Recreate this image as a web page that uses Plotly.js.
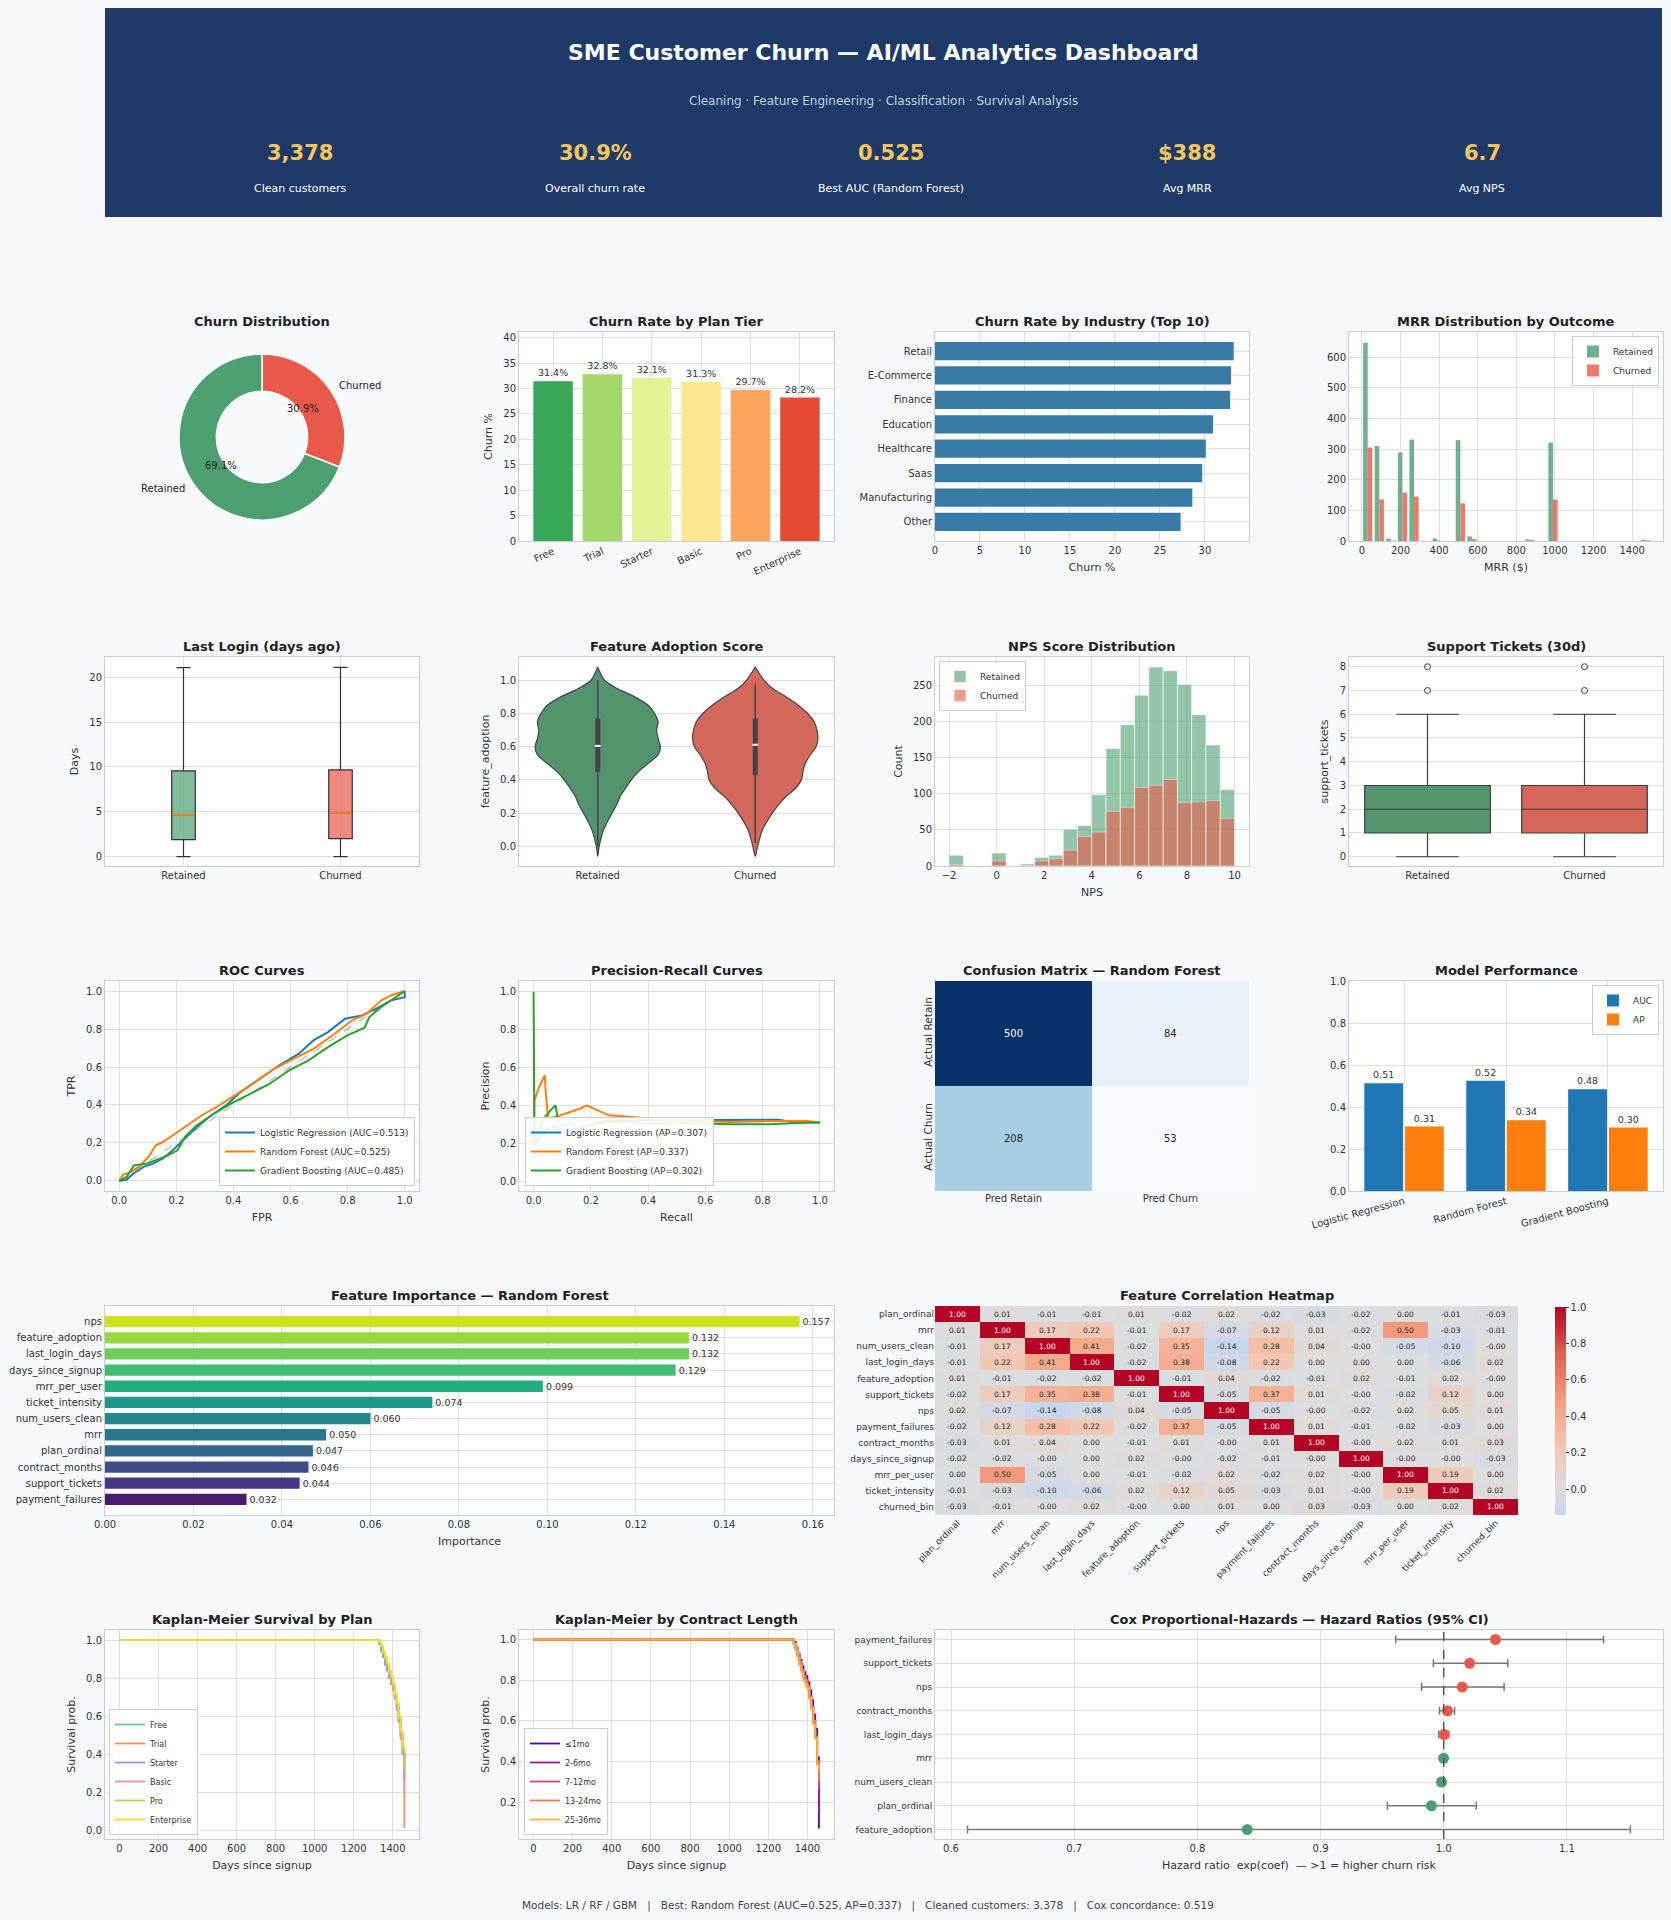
<!DOCTYPE html>
<html>
<head>
<meta charset="utf-8">
<script src="https://cdn.plot.ly/plotly-3.0.1.min.js"></script>
<style>
  html, body { margin: 0; padding: 0; background: #f7f9fc; }
  #dash { width: 1671px; height: 1920px; }
</style>
</head>
<body>
<div id="dash"></div>
<script>
// ---------------- data ----------------
const cleanCustomers = 3378;
const overallChurnPct = 30.9;
const avgMrr = 388;
const avgNps = 6.7;
const coxConcordance = 0.519;

const churnLabels = ['Retained', 'Churned'];
const churnShare = [69.1, 30.9];

const planTiers = ['Free', 'Trial', 'Starter', 'Basic', 'Pro', 'Enterprise'];
const planChurn = [31.4, 32.8, 32.1, 31.3, 29.7, 28.2];
const planColors = ['#39a758', '#a2d76a', '#e4f298', '#fde690', '#fca55d', '#e54c35'];

const industries = ['Retail', 'E-Commerce', 'Finance', 'Education', 'Healthcare', 'Saas', 'Manufacturing', 'Other'];
const industryChurn = [33.2, 32.9, 32.8, 30.9, 30.1, 29.7, 28.6, 27.3];

// MRR histogram: 25 bins of $60 starting at $0
const mrrBinStart = 0;
const mrrBinWidth = 60;
const mrrRetained = [647, 310, 8, 289, 331, 0, 8, 0, 329, 15, 0, 0, 0, 0, 5, 0, 321, 0, 0, 0, 0, 0, 0, 0, 4];
const mrrChurned  = [305, 136, 1, 158, 145, 0, 1, 0, 123, 6, 0, 0, 0, 0, 3, 0, 135, 0, 0, 0, 0, 0, 0, 0, 2];

const groups = ['Retained', 'Churned'];
// last login (days ago) box statistics
const loginQ1 = [1.89, 2.0];
const loginMedian = [4.67, 4.89];
const loginQ3 = [9.56, 9.67];
const loginLow = [0, 0];
const loginHigh = [21.07, 21.1];

// feature adoption violin outline: half-width (category units) at each level
const violinLevels = [-0.06, 0, 0.1, 0.2, 0.25, 0.3, 0.35, 0.4, 0.45, 0.5, 0.55, 0.6, 0.65, 0.7, 0.75, 0.8, 0.85, 0.9, 0.95, 1.0, 1.08];
const violinRetained = [0, 0.009, 0.037, 0.09, 0.12, 0.142, 0.176, 0.213, 0.259, 0.321, 0.383, 0.398, 0.383, 0.374, 0.383, 0.361, 0.32, 0.235, 0.124, 0.043, 0];
const violinChurned  = [0, 0.015, 0.046, 0.108, 0.148, 0.195, 0.256, 0.293, 0.303, 0.318, 0.349, 0.386, 0.398, 0.392, 0.374, 0.333, 0.272, 0.195, 0.11, 0.056, 0];
const adoptQ1 = [0.448, 0.428];
const adoptMedian = [0.605, 0.612];
const adoptQ3 = [0.77, 0.77];
const adoptLow = [0.0, 0.02];
const adoptHigh = [1.0, 0.98];

// NPS histogram: 20 bins of 0.6 from -2 to 10
const npsBinStart = -2;
const npsBinWidth = 0.6;
const npsRetained = [15, 0, 0, 18, 0, 3, 12, 15, 51, 56, 99, 163, 196, 237, 276, 271, 252, 210, 168, 106];
const npsChurned  = [2, 0, 0, 7, 0, 0, 7, 10, 22, 41, 47, 76, 81, 109, 112, 120, 88, 89, 91, 66];

// support tickets box statistics
const ticketQ1 = [1, 1];
const ticketMedian = [2, 2];
const ticketQ3 = [3, 3];
const ticketLow = [0, 0];
const ticketHigh = [6, 6];
const ticketOutliers = [[7, 8], [7, 8]];

const models = ['Logistic Regression', 'Random Forest', 'Gradient Boosting'];
const modelShort = ['LR', 'RF', 'GBM'];
const modelAuc = [0.513, 0.5248, 0.4849];
const modelAp = [0.307, 0.337, 0.302];
const modelColors = ['#1f77b4', '#ff7f0e', '#2ca02c'];

const rocLrFpr = [0, 0.026, 0.05, 0.085, 0.119, 0.153, 0.187, 0.23, 0.272, 0.323, 0.374, 0.425, 0.493, 0.561, 0.629, 0.68, 0.731, 0.791, 0.85, 0.901, 0.952, 1.0, 1.0];
const rocLrTpr = [0, 0.007, 0.039, 0.074, 0.091, 0.118, 0.161, 0.223, 0.284, 0.346, 0.398, 0.468, 0.539, 0.609, 0.67, 0.74, 0.784, 0.854, 0.872, 0.907, 0.951, 0.968, 1.0];
const rocRfFpr = [0, 0.014, 0.034, 0.068, 0.102, 0.128, 0.153, 0.196, 0.238, 0.289, 0.34, 0.383, 0.442, 0.493, 0.544, 0.612, 0.68, 0.748, 0.816, 0.867, 0.918, 0.952, 1.0];
const rocRfTpr = [0, 0.035, 0.042, 0.074, 0.126, 0.188, 0.205, 0.249, 0.293, 0.346, 0.389, 0.428, 0.486, 0.539, 0.591, 0.644, 0.696, 0.767, 0.846, 0.881, 0.951, 0.977, 1.0];
const rocGbFpr = [0, 0.026, 0.051, 0.094, 0.128, 0.17, 0.204, 0.23, 0.272, 0.323, 0.391, 0.459, 0.527, 0.595, 0.663, 0.731, 0.799, 0.859, 0.876, 0.918, 0.969, 1.0];
const rocGbTpr = [0, 0.021, 0.082, 0.091, 0.109, 0.135, 0.161, 0.232, 0.293, 0.346, 0.407, 0.46, 0.512, 0.582, 0.635, 0.705, 0.767, 0.807, 0.863, 0.916, 0.968, 1.0];

const prLrRecall = [0, 0.017, 0.034, 0.051, 0.076, 0.093, 0.118, 0.144, 0.178, 0.228, 0.313, 0.431, 0.6, 0.77, 0.855, 0.905, 1.0];
const prLrPrec   = [0.19, 0.218, 0.261, 0.279, 0.291, 0.261, 0.253, 0.27, 0.291, 0.309, 0.319, 0.323, 0.323, 0.326, 0.326, 0.314, 0.312];
const prRfRecall = [0, 0.003, 0.017, 0.029, 0.039, 0.042, 0.051, 0.068, 0.093, 0.127, 0.161, 0.186, 0.212, 0.262, 0.347, 0.431, 0.516, 0.685, 0.821, 0.956, 1.0];
const prRfPrec   = [0.19, 0.428, 0.49, 0.525, 0.56, 0.48, 0.323, 0.34, 0.349, 0.367, 0.384, 0.402, 0.384, 0.349, 0.34, 0.326, 0.323, 0.314, 0.319, 0.319, 0.312];
const prGbRecall = [0, 0.003, 0.017, 0.034, 0.059, 0.076, 0.088, 0.11, 0.135, 0.152, 0.178, 0.228, 0.279, 0.33, 0.381, 0.516, 0.685, 0.821, 0.922, 1.0];
const prGbPrec   = [1.0, 0.191, 0.27, 0.33, 0.375, 0.402, 0.305, 0.296, 0.305, 0.274, 0.288, 0.314, 0.323, 0.316, 0.305, 0.309, 0.302, 0.302, 0.309, 0.312];

const cmCols = ['Pred Retain', 'Pred Churn'];
const cmRows = ['Actual Retain', 'Actual Churn'];
const cmValues = [[500, 84], [208, 53]];

const fiNames = ['nps', 'feature_adoption', 'last_login_days', 'days_since_signup', 'mrr_per_user', 'ticket_intensity', 'num_users_clean', 'mrr', 'plan_ordinal', 'contract_months', 'support_tickets', 'payment_failures'];
const fiValues = [0.157, 0.132, 0.132, 0.129, 0.099, 0.074, 0.060, 0.050, 0.047, 0.046, 0.044, 0.032];
const fiColors = ['#cde11d', '#98d83e', '#6ccd5a', '#40bd72', '#25ac82', '#1f988b', '#23888e', '#2a768e', '#32648e', '#3d4d8a', '#453781', '#481c6e'];

const corrVars = ['plan_ordinal', 'mrr', 'num_users_clean', 'last_login_days', 'feature_adoption', 'support_tickets', 'nps', 'payment_failures', 'contract_months', 'days_since_signup', 'mrr_per_user', 'ticket_intensity', 'churned_bin'];
const corrMatrix = [
  [1.00, 0.01, -0.01, -0.01, 0.01, -0.02, 0.02, -0.02, -0.03, -0.02, 0.00, -0.01, -0.03],
  [0.01, 1.00, 0.17, 0.22, -0.01, 0.17, -0.07, 0.12, 0.01, -0.02, 0.50, -0.03, -0.01],
  [-0.01, 0.17, 1.00, 0.41, -0.02, 0.35, -0.14, 0.28, 0.04, -0.00, -0.05, -0.10, -0.00],
  [-0.01, 0.22, 0.41, 1.00, -0.02, 0.38, -0.08, 0.22, 0.00, 0.00, 0.00, -0.06, 0.02],
  [0.01, -0.01, -0.02, -0.02, 1.00, -0.01, 0.04, -0.02, -0.01, 0.02, -0.01, 0.02, -0.00],
  [-0.02, 0.17, 0.35, 0.38, -0.01, 1.00, -0.05, 0.37, 0.01, -0.00, -0.02, 0.12, 0.00],
  [0.02, -0.07, -0.14, -0.08, 0.04, -0.05, 1.00, -0.05, -0.00, -0.02, 0.02, 0.05, 0.01],
  [-0.02, 0.12, 0.28, 0.22, -0.02, 0.37, -0.05, 1.00, 0.01, -0.01, -0.02, -0.03, 0.00],
  [-0.03, 0.01, 0.04, 0.00, -0.01, 0.01, -0.00, 0.01, 1.00, -0.00, 0.02, 0.01, 0.03],
  [-0.02, -0.02, -0.00, 0.00, 0.02, -0.00, -0.02, -0.01, -0.00, 1.00, -0.00, -0.00, -0.03],
  [0.00, 0.50, -0.05, 0.00, -0.01, -0.02, 0.02, -0.02, 0.02, -0.00, 1.00, 0.19, 0.00],
  [-0.01, -0.03, -0.10, -0.06, 0.02, 0.12, 0.05, -0.03, 0.01, -0.00, 0.19, 1.00, 0.02],
  [-0.03, -0.01, -0.00, 0.02, -0.00, 0.00, 0.01, 0.00, 0.03, -0.03, 0.00, 0.02, 1.00]
];

// Kaplan-Meier survival estimates
const kmDays = [0, 1320, 1330, 1340, 1350, 1360, 1370, 1380, 1390, 1400, 1410, 1420, 1430, 1440, 1450, 1459];
const kmPlanNames = ['Free', 'Trial', 'Starter', 'Basic', 'Pro', 'Enterprise'];
const kmPlanColors = ['#66c2a5', '#fc8d62', '#8da0cb', '#e78ac3', '#a6d854', '#ffd92f'];
const kmPlanSurv = [
  [1, 1, 0.98, 0.95, 0.92, 0.88, 0.86, 0.83, 0.80, 0.76, 0.71, 0.66, 0.59, 0.51, 0.43, 0.27],
  [1, 1, 0.99, 0.96, 0.93, 0.89, 0.85, 0.82, 0.79, 0.75, 0.70, 0.64, 0.57, 0.48, 0.40, 0.01],
  [1, 1, 0.98, 0.94, 0.91, 0.87, 0.84, 0.80, 0.77, 0.74, 0.70, 0.65, 0.58, 0.50, 0.41, 0.36],
  [1, 1, 0.99, 0.96, 0.93, 0.90, 0.86, 0.82, 0.78, 0.74, 0.69, 0.63, 0.57, 0.49, 0.40, 0.22],
  [1, 1, 0.99, 0.96, 0.93, 0.90, 0.87, 0.83, 0.80, 0.76, 0.71, 0.66, 0.59, 0.51, 0.43, 0.32],
  [1, 1, 0.99, 0.97, 0.94, 0.91, 0.88, 0.84, 0.81, 0.77, 0.72, 0.67, 0.60, 0.52, 0.44, 0.42]
];
const kmContractNames = ['\u22641mo', '2-6mo', '7-12mo', '13-24mo', '25-36mo'];
const kmContractColors = ['#5402a3', '#9c179e', '#cc4778', '#ed7953', '#fdb42f'];
const kmContractSurv = [
  [1, 1, 0.99, 0.96, 0.93, 0.90, 0.87, 0.84, 0.82, 0.79, 0.75, 0.70, 0.63, 0.56, 0.42, 0.07],
  [1, 1, 0.98, 0.95, 0.92, 0.88, 0.85, 0.82, 0.80, 0.77, 0.72, 0.67, 0.60, 0.53, 0.40, 0.15],
  [1, 1, 0.98, 0.95, 0.92, 0.88, 0.85, 0.81, 0.79, 0.76, 0.71, 0.66, 0.59, 0.52, 0.39, 0.26],
  [1, 1, 0.98, 0.96, 0.93, 0.89, 0.85, 0.82, 0.80, 0.77, 0.72, 0.67, 0.60, 0.52, 0.40, 0.30],
  [1, 1, 0.98, 0.95, 0.91, 0.87, 0.84, 0.80, 0.78, 0.76, 0.71, 0.66, 0.58, 0.51, 0.38, 0.36]
];

// Cox proportional-hazards: hazard ratios with 95% CI
const coxVars = ['payment_failures', 'support_tickets', 'nps', 'contract_months', 'last_login_days', 'mrr', 'num_users_clean', 'plan_ordinal', 'feature_adoption'];
const coxHR = [1.042, 1.021, 1.015, 1.003, 1.0004, 0.9999, 0.9983, 0.990, 0.8405];
const coxLo = [0.961, 0.9916, 0.982, 0.9966, 0.996, 0.9995, 0.995, 0.9543, 0.6134];
const coxHi = [1.1297, 1.052, 1.049, 1.0088, 1.004, 1.0003, 1.001, 1.0264, 1.1515];

const kpiLabels = ['Clean customers', 'Overall churn rate', 'Best AUC (Random Forest)', 'Avg MRR', 'Avg NPS'];

// ---------------- layout helpers ----------------
const W = 1671, H = 1920;
const FONT = '"DejaVu Sans", "Liberation Sans", sans-serif';
const TXT = '#333333';
const BG = '#f7f9fc';
const GREEN = '#4c9f70', RED = '#e8594a';
const PX = x => x / W;
const PY = y => 1 - y / H;
const XD = (a, b) => [a / W, b / W];
const YD = (top, bottom) => [1 - bottom / H, 1 - top / H];

const C1 = [105, 419], C2 = [519, 834], C3 = [935, 1249], C4 = [1349, 1663];
const R1 = [332, 541], R2 = [657, 866], R3 = [981, 1191], R4 = [1306, 1515], R5 = [1630, 1839];

const fmt2 = v => (v < 0 || Object.is(v, -0)) ? '-' + Math.abs(v).toFixed(2) : v.toFixed(2);
const sum = a => a.reduce((s, v) => s + v, 0);

const traces = [];
const layout = {
  width: W, height: H,
  margin: {l: 0, r: 0, t: 0, b: 0},
  paper_bgcolor: BG, plot_bgcolor: '#ffffff',
  font: {family: FONT, size: 10, color: TXT},
  barmode: 'overlay',
  hovermode: 'closest',
  shapes: [], annotations: []
};

function baseAxis() {
  return {
    showline: true, mirror: true, linecolor: '#cccccc', linewidth: 1,
    showgrid: true, gridcolor: '#dedede', gridwidth: 1, zeroline: false,
    ticks: '', tickfont: {size: 10, color: TXT}, automargin: false, fixedrange: true
  };
}
function axTitle(text, standoff) { return {text: text, font: {size: 11, color: TXT}, standoff: standoff === undefined ? 8 : standoff}; }
function addAxes(n, xOpts, yOpts) {
  const s = n > 1 ? String(n) : '';
  layout['xaxis' + s] = Object.assign(baseAxis(), {anchor: 'y' + s}, xOpts);
  layout['yaxis' + s] = Object.assign(baseAxis(), {anchor: 'x' + s}, yOpts);
  return {xaxis: 'x' + s, yaxis: 'y' + s};
}
// paper-positioned text, anchored explicitly
function paperText(text, x, y, font, xanchor) {
  layout.annotations.push({text: text, xref: 'paper', yref: 'paper', x: PX(x), y: PY(y),
    xanchor: xanchor || 'center', yanchor: 'middle', showarrow: false, font: font});
}
function panelTitle(text, col, row) {
  paperText('<b>' + text + '</b>', (col[0] + col[1]) / 2, row[0] - 11, {size: 13, color: '#222222'});
}
function legendBox(x, y, xanchor, yanchor) {
  return {
    x: PX(x), y: PY(y), xanchor: xanchor, yanchor: yanchor, xref: 'paper', yref: 'paper',
    bgcolor: 'rgba(255,255,255,0.9)', bordercolor: '#cccccc', borderwidth: 1,
    font: {size: 9, color: TXT}, itemwidth: 30, tracegroupgap: 0
  };
}

// ---------------- header ----------------
layout.shapes.push({type: 'rect', xref: 'paper', yref: 'paper', x0: PX(105), x1: PX(1662), y0: PY(217), y1: PY(8),
  fillcolor: '#1f3a68', line: {width: 0}, layer: 'below'});
paperText('<b>SME Customer Churn \u2014 AI/ML Analytics Dashboard</b>', 883, 53, {size: 22, color: '#ffffff'});
paperText('Cleaning \u00b7 Feature Engineering \u00b7 Classification \u00b7 Survival Analysis', 883, 101, {size: 12, color: '#c5cfe2'});
const bestIdx = modelAuc.indexOf(Math.max(...modelAuc));
const kpiValues = [
  cleanCustomers.toLocaleString('en-US'),
  overallChurnPct.toFixed(1) + '%',
  modelAuc[bestIdx].toFixed(3),
  '$' + avgMrr,
  avgNps.toFixed(1)
];
const kpiX = [300, 595, 891, 1187, 1482];
kpiValues.forEach((v, i) => {
  paperText('<b>' + v + '</b>', kpiX[i], 153, {size: 21, color: '#f5c55a'});
  paperText(kpiLabels[i], kpiX[i], 189, {size: 11, color: '#ffffff'});
});

// ---------------- row 1 ----------------
// churn donut: churned slice runs clockwise from 12 o'clock
const pcx = 262, pcy = 437, pr = 83;
traces.push({type: 'pie', labels: churnLabels.slice().reverse(), values: churnShare.slice().reverse(), hole: 0.55, sort: false,
  direction: 'clockwise', rotation: 0, textinfo: 'none', showlegend: false,
  marker: {colors: [RED, GREEN], line: {color: '#ffffff', width: 1.5}},
  domain: {x: XD(pcx - pr, pcx + pr), y: YD(pcy - pr, pcy + pr)}});
(function () {
  const total = sum(churnShare);
  let cum = 0;
  churnShare.forEach((v, i) => {
    // Retained counter-clockwise from the top, Churned the remainder
    const mid = (cum + v / 2) / total; cum += v;
    const th = 2 * Math.PI * mid;
    const ux = -Math.sin(th), uy = Math.cos(th);
    paperText((100 * v / total).toFixed(1) + '%', pcx + 0.6 * pr * ux, pcy - 0.6 * pr * uy, {size: 10, color: '#222'});
    paperText(churnLabels[i], pcx + 1.1 * pr * ux, pcy - 1.1 * pr * uy, {size: 10, color: '#222'}, ux > 0 ? 'left' : 'right');
  });
})();
panelTitle('Churn Distribution', C1, R1);

// churn by plan tier
let a = addAxes(1,
  {domain: XD(...C2), type: 'category', range: [-0.69, 5.69], tickangle: -25},
  {domain: YD(...R1), range: [0, 41.1], dtick: 5, title: axTitle('Churn %')});
traces.push(Object.assign({type: 'bar', x: planTiers, y: planChurn, width: 0.8,
  marker: {color: planColors}, text: planChurn.map(v => v.toFixed(1) + '%'), textposition: 'outside',
  textfont: {size: 9.5, color: TXT}, cliponaxis: false, showlegend: false}, a));
panelTitle('Churn Rate by Plan Tier', C2, R1);

// churn by industry
a = addAxes(2,
  {domain: XD(...C3), range: [0, 34.9], dtick: 5, title: axTitle('Churn %')},
  {domain: YD(...R1), type: 'category', range: [industries.length - 0.22, -0.78]});
traces.push(Object.assign({type: 'bar', orientation: 'h', x: industryChurn, y: industries, width: 0.75,
  marker: {color: '#3a7aa7'}, showlegend: false}, a));
panelTitle('Churn Rate by Industry (Top 10)', C3, R1);

// MRR distribution
a = addAxes(3,
  {domain: XD(...C4), range: [-67, 1560], dtick: 200, title: axTitle('MRR ($)')},
  {domain: YD(...R1), range: [0, 682], dtick: 100});
const mrrCenters = mrrRetained.map((_, i) => mrrBinStart + mrrBinWidth * (i + 0.5));
traces.push(Object.assign({type: 'bar', name: 'Retained', x: mrrCenters, y: mrrRetained,
  offset: -0.4 * mrrBinWidth, width: 0.4 * mrrBinWidth, marker: {color: 'rgba(76,159,112,0.8)'}, legend: 'legend'}, a));
traces.push(Object.assign({type: 'bar', name: 'Churned', x: mrrCenters, y: mrrChurned,
  offset: 0, width: 0.4 * mrrBinWidth, marker: {color: 'rgba(232,89,74,0.8)'}, legend: 'legend'}, a));
layout.legend = legendBox(1659, 336, 'right', 'top');
panelTitle('MRR Distribution by Outcome', C4, R1);

// ---------------- row 2 ----------------
// last login box plot
a = addAxes(4,
  {domain: XD(...C1), range: [-0.5, 1.5], tickvals: [0, 1], ticktext: groups},
  {domain: YD(...R2), range: [-1.05, 22.26], dtick: 5, title: axTitle('Days')});
const loginFill = ['rgba(76,159,112,0.7)', 'rgba(232,89,74,0.7)'];
groups.forEach((g, i) => {
  traces.push(Object.assign({type: 'box', name: g, x: [i], q1: [loginQ1[i]], median: [loginMedian[i]], q3: [loginQ3[i]],
    lowerfence: [loginLow[i]], upperfence: [loginHigh[i]], width: 0.15, whiskerwidth: 0.6, boxpoints: false,
    fillcolor: loginFill[i], line: {color: '#333333', width: 1.2}, showlegend: false}, a));
  traces.push(Object.assign({type: 'scatter', mode: 'lines', x: [i - 0.072, i + 0.072], y: [loginMedian[i], loginMedian[i]],
    line: {color: '#ff7f0e', width: 1.5}, showlegend: false, hoverinfo: 'skip'}, a));
});
panelTitle('Last Login (days ago)', C1, R2);

// feature adoption violins
a = addAxes(5,
  {domain: XD(...C2), range: [-0.5, 1.5], tickvals: [0, 1], ticktext: groups, showgrid: false},
  {domain: YD(...R2), range: [-0.118, 1.14], dtick: 0.2, tickformat: '.1f', title: axTitle('feature_adoption')});
const violinShapes = [violinRetained, violinChurned];
const violinFill = ['#53946e', '#d4685c'];
groups.forEach((g, i) => {
  const hw = violinShapes[i];
  const xs = [], ys = [];
  violinLevels.forEach((l, k) => { xs.push(i + hw[k]); ys.push(l); });
  for (let k = violinLevels.length - 1; k >= 0; k--) { xs.push(i - hw[k]); ys.push(violinLevels[k]); }
  traces.push(Object.assign({type: 'scatter', mode: 'lines', x: xs, y: ys, fill: 'toself', fillcolor: violinFill[i],
    line: {color: '#444444', width: 1.2, shape: 'spline', smoothing: 0.8}, showlegend: false, hoverinfo: 'skip'}, a));
  traces.push(Object.assign({type: 'scatter', mode: 'lines', x: [i, i], y: [adoptLow[i], adoptHigh[i]],
    line: {color: '#444444', width: 1.5}, showlegend: false, hoverinfo: 'skip'}, a));
  traces.push(Object.assign({type: 'scatter', mode: 'lines', x: [i, i], y: [adoptQ1[i], adoptQ3[i]],
    line: {color: '#444444', width: 5}, showlegend: false, hoverinfo: 'skip'}, a));
  traces.push(Object.assign({type: 'scatter', mode: 'markers', x: [i], y: [adoptMedian[i]],
    marker: {color: '#ffffff', size: 4, symbol: 'line-ew', line: {color: '#ffffff', width: 2}}, showlegend: false}, a));
});
panelTitle('Feature Adoption Score', C2, R2);

// NPS histogram
a = addAxes(6,
  {domain: XD(...C3), range: [-2.59, 10.61], dtick: 2, title: axTitle('NPS')},
  {domain: YD(...R2), range: [0, 290], dtick: 50, title: axTitle('Count')});
const npsCenters = npsRetained.map((_, i) => npsBinStart + npsBinWidth * (i + 0.5));
traces.push(Object.assign({type: 'bar', name: 'Retained', x: npsCenters, y: npsRetained, width: npsBinWidth, opacity: 0.6,
  marker: {color: GREEN, line: {color: '#ffffff', width: 0.6}}, legend: 'legend2'}, a));
traces.push(Object.assign({type: 'bar', name: 'Churned', x: npsCenters, y: npsChurned, width: npsBinWidth, opacity: 0.6,
  marker: {color: RED, line: {color: '#ffffff', width: 0.6}}, legend: 'legend2'}, a));
layout.legend2 = legendBox(939, 661, 'left', 'top');
panelTitle('NPS Score Distribution', C3, R2);

// support tickets box plot
a = addAxes(7,
  {domain: XD(...C4), range: [-0.5, 1.5], tickvals: [0, 1], ticktext: groups, showgrid: false},
  {domain: YD(...R2), range: [-0.39, 8.41], dtick: 1, title: axTitle('support_tickets')});
const ticketFill = ['#55956f', '#d5675a'];
groups.forEach((g, i) => {
  traces.push(Object.assign({type: 'box', name: g, x: [i], q1: [ticketQ1[i]], median: [ticketMedian[i]], q3: [ticketQ3[i]],
    lowerfence: [ticketLow[i]], upperfence: [ticketHigh[i]], width: 0.8, whiskerwidth: 0.5, boxpoints: false,
    fillcolor: ticketFill[i], line: {color: '#3d3d3d', width: 1.2}, showlegend: false}, a));
  traces.push(Object.assign({type: 'scatter', mode: 'markers', x: ticketOutliers[i].map(() => i), y: ticketOutliers[i],
    marker: {symbol: 'circle-open', size: 6, color: '#3d3d3d', line: {width: 1}}, showlegend: false}, a));
});
panelTitle('Support Tickets (30d)', C4, R2);

// ---------------- row 3 ----------------
// ROC curves
a = addAxes(8,
  {domain: XD(...C1), range: [-0.05, 1.05], dtick: 0.2, tickformat: '.1f', title: axTitle('FPR')},
  {domain: YD(...R3), range: [-0.053, 1.053], dtick: 0.2, tickformat: '.1f', title: axTitle('TPR')});
const rocX = [rocLrFpr, rocRfFpr, rocGbFpr], rocY = [rocLrTpr, rocRfTpr, rocGbTpr];
traces.push(Object.assign({type: 'scatter', mode: 'lines', x: [0, 1], y: [0, 1], line: {color: '#9a9a9a', width: 1, dash: 'dash'},
  showlegend: false, hoverinfo: 'skip'}, a));
models.forEach((m, i) => {
  traces.push(Object.assign({type: 'scatter', mode: 'lines', name: m + ' (AUC=' + modelAuc[i].toFixed(3) + ')',
    x: rocX[i], y: rocY[i], line: {color: modelColors[i], width: 2}, legend: 'legend3'}, a));
});
layout.legend3 = legendBox(415, 1186, 'right', 'bottom');
panelTitle('ROC Curves', C1, R3);

// precision-recall curves
a = addAxes(9,
  {domain: XD(...C2), range: [-0.051, 1.049], dtick: 0.2, tickformat: '.1f', title: axTitle('Recall')},
  {domain: YD(...R3), range: [-0.049, 1.056], dtick: 0.2, tickformat: '.1f', title: axTitle('Precision')});
const prX = [prLrRecall, prRfRecall, prGbRecall], prY = [prLrPrec, prRfPrec, prGbPrec];
models.forEach((m, i) => {
  traces.push(Object.assign({type: 'scatter', mode: 'lines', name: m + ' (AP=' + modelAp[i].toFixed(3) + ')',
    x: prX[i], y: prY[i], line: {color: modelColors[i], width: 2}, legend: 'legend4'}, a));
});
layout.legend4 = legendBox(525, 1186, 'left', 'bottom');
panelTitle('Precision-Recall Curves', C2, R3);

// confusion matrix
a = addAxes(10,
  {domain: XD(...C3), type: 'category', showline: false, showgrid: false},
  {domain: YD(...R3), type: 'category', autorange: 'reversed', showline: false, showgrid: false, tickangle: -90,
    tickfont: {size: 10.5, color: TXT}});
const blues = [[0, '#f7fbff'], [0.125, '#deebf7'], [0.25, '#c6dbef'], [0.375, '#9ecae1'], [0.5, '#6baed6'],
  [0.625, '#4292c6'], [0.75, '#2171b5'], [0.875, '#08519c'], [1, '#08306b']];
traces.push(Object.assign({type: 'heatmap', z: cmValues, x: cmCols, y: cmRows, colorscale: blues, showscale: false}, a));
const cmFlat = cmValues.flat(), cmMax = Math.max(...cmFlat), cmMin = Math.min(...cmFlat);
cmValues.forEach((row, i) => row.forEach((v, j) => {
  layout.annotations.push({xref: 'x10', yref: 'y10', x: cmCols[j], y: cmRows[i], text: String(v), showarrow: false,
    xanchor: 'center', yanchor: 'middle',
    font: {size: 10, color: (v - cmMin) / (cmMax - cmMin) > 0.6 ? '#ffffff' : '#262626'}});
}));
panelTitle('Confusion Matrix \u2014 Random Forest', C3, R3);

// model performance
a = addAxes(11,
  {domain: XD(...C4), range: [-0.54, 2.54], tickvals: [0, 1, 2], ticktext: models, tickangle: -15},
  {domain: YD(...R3), range: [0, 1], dtick: 0.2, tickformat: '.1f'});
const modelIdx = models.map((_, i) => i);
traces.push(Object.assign({type: 'bar', name: 'AUC', x: modelIdx, y: modelAuc, offset: -0.39, width: 0.38,
  marker: {color: '#1f77b4'}, text: modelAuc.map(v => v.toFixed(2)), textposition: 'outside',
  textfont: {size: 9.5, color: TXT}, cliponaxis: false, legend: 'legend5'}, a));
traces.push(Object.assign({type: 'bar', name: 'AP', x: modelIdx, y: modelAp, offset: 0.01, width: 0.38,
  marker: {color: '#ff7f0e'}, text: modelAp.map(v => v.toFixed(2)), textposition: 'outside',
  textfont: {size: 9.5, color: TXT}, cliponaxis: false, legend: 'legend5'}, a));
layout.legend5 = legendBox(1659, 985, 'right', 'top');
panelTitle('Model Performance', C4, R3);

// ---------------- row 4 ----------------
// feature importance
a = addAxes(12,
  {domain: XD(105, 834), range: [0, 0.1648], dtick: 0.02, tickformat: '.2f', title: axTitle('Importance')},
  {domain: YD(...R4), type: 'category', range: [fiNames.length - 0.03, -0.97]});
traces.push(Object.assign({type: 'bar', orientation: 'h', x: fiValues, y: fiNames, width: 0.7,
  marker: {color: fiColors}, text: fiValues.map(v => v.toFixed(3)), textposition: 'outside',
  textfont: {size: 9.5, color: TXT}, cliponaxis: false, showlegend: false}, a));
panelTitle('Feature Importance \u2014 Random Forest', [105, 834], R4);

// correlation heatmap (coolwarm, centred at zero)
const coolwarm = [[0, [59, 76, 192]], [0.125, [98, 130, 234]], [0.25, [141, 176, 254]], [0.375, [184, 208, 249]],
  [0.5, [221, 221, 221]], [0.625, [245, 196, 173]], [0.75, [244, 154, 123]], [0.875, [222, 96, 77]], [1, [180, 4, 38]]];
function coolwarmAt(p) {
  for (let k = 1; k < coolwarm.length; k++) {
    if (p <= coolwarm[k][0]) {
      const [p0, c0] = coolwarm[k - 1], [p1, c1] = coolwarm[k];
      const t = (p - p0) / (p1 - p0);
      return 'rgb(' + c0.map((c, j) => Math.round(c + t * (c1[j] - c))).join(',') + ')';
    }
  }
  return 'rgb(180,4,38)';
}
const corrFlat = corrMatrix.flat();
const zMin = Math.min(...corrFlat), zMax = Math.max(...corrFlat);
const span = Math.max(Math.abs(zMin), Math.abs(zMax));
const corrScale = [];
for (let k = 0; k <= 40; k++) {
  const t = k / 40, v = zMin + t * (zMax - zMin);
  corrScale.push([t, coolwarmAt((v + span) / (2 * span))]);
}
a = addAxes(13,
  {domain: XD(935, 1518), type: 'category', showline: false, showgrid: false, tickangle: -45, tickfont: {size: 9, color: TXT}},
  {domain: YD(...R4), type: 'category', autorange: 'reversed', showline: false, showgrid: false, tickfont: {size: 9, color: TXT}});
traces.push(Object.assign({type: 'heatmap', z: corrMatrix, x: corrVars, y: corrVars, zmin: zMin, zmax: zMax,
  colorscale: corrScale, colorbar: {x: PX(1555), xanchor: 'left', xpad: 0, ypad: 0, y: PY(1307), yanchor: 'top',
    lenmode: 'pixels', len: 208, thickness: 11, outlinewidth: 0, tickvals: [0, 0.2, 0.4, 0.6, 0.8, 1.0],
    tickformat: '.1f', ticks: 'outside', ticklen: 3, tickcolor: '#333', tickfont: {size: 10, color: TXT}}}, a));
corrMatrix.forEach((row, i) => row.forEach((v, j) => {
  layout.annotations.push({xref: 'x13', yref: 'y13', x: corrVars[j], y: corrVars[i], text: fmt2(v), showarrow: false,
    xanchor: 'center', yanchor: 'middle', font: {size: 7.5, color: v > 0.7 ? '#ffffff' : '#262626'}});
}));
panelTitle('Feature Correlation Heatmap', [935, 1518], R4);

// ---------------- row 5 ----------------
// Kaplan-Meier by plan
a = addAxes(14,
  {domain: XD(...C1), range: [-74, 1534], dtick: 200, title: axTitle('Days since signup')},
  {domain: YD(...R5), range: [-0.046, 1.053], dtick: 0.2, tickformat: '.1f', title: axTitle('Survival prob.')});
kmPlanNames.forEach((n, i) => {
  traces.push(Object.assign({type: 'scatter', mode: 'lines', name: n, x: kmDays, y: kmPlanSurv[i],
    line: {color: kmPlanColors[i], width: 1.8, shape: 'hv'}, legend: 'legend6'}, a));
});
layout.legend6 = Object.assign(legendBox(109, 1835, 'left', 'bottom'), {font: {size: 8, color: TXT}});
panelTitle('Kaplan-Meier Survival by Plan', C1, R5);

// Kaplan-Meier by contract length
a = addAxes(15,
  {domain: XD(...C2), range: [-74, 1536], dtick: 200, title: axTitle('Days since signup')},
  {domain: YD(...R5), range: [0.018, 1.047], dtick: 0.2, tickformat: '.1f', title: axTitle('Survival prob.')});
kmContractNames.forEach((n, i) => {
  traces.push(Object.assign({type: 'scatter', mode: 'lines', name: n, x: kmDays, y: kmContractSurv[i],
    line: {color: kmContractColors[i], width: 1.8, shape: 'hv'}, legend: 'legend7'}, a));
});
layout.legend7 = Object.assign(legendBox(524, 1835, 'left', 'bottom'), {font: {size: 8, color: TXT}});
panelTitle('Kaplan-Meier by Contract Length', C2, R5);

// Cox hazard ratios
a = addAxes(16,
  {domain: XD(935, 1663), range: [0.587, 1.178], dtick: 0.1, tickformat: '.1f',
    title: axTitle('Hazard ratio  exp(coef)  \u2014 >1 = higher churn risk')},
  {domain: YD(...R5), type: 'category', range: [coxVars.length - 0.6, -0.4], tickfont: {size: 9, color: TXT}});
traces.push(Object.assign({type: 'scatter', mode: 'markers', x: coxHR, y: coxVars,
  error_x: {type: 'data', symmetric: false, array: coxHi.map((h, i) => h - coxHR[i]),
    arrayminus: coxLo.map((l, i) => coxHR[i] - l), color: '#777777', thickness: 1.5, width: 4},
  marker: {size: 11, color: coxHR.map(v => v >= 1 ? RED : GREEN)}, showlegend: false}, a));
layout.shapes.push({type: 'line', xref: 'x16', yref: 'y16 domain', x0: 1, x1: 1, y0: 0, y1: 1,
  line: {color: '#555555', width: 1.5, dash: 'dash'}});
panelTitle('Cox Proportional-Hazards \u2014 Hazard Ratios (95% CI)', [935, 1663], R5);

// ---------------- footer ----------------
const sep = '\u00a0\u00a0\u00a0|\u00a0\u00a0\u00a0';
paperText('Models: ' + modelShort.join(' / ') + sep +
    'Best: ' + models[bestIdx] + ' (AUC=' + modelAuc[bestIdx].toFixed(3) + ', AP=' + modelAp[bestIdx].toFixed(3) + ')' + sep +
    'Cleaned customers: ' + cleanCustomers.toLocaleString('en-US') + sep +
    'Cox concordance: ' + coxConcordance.toFixed(3),
  868, 1905, {size: 10.5, color: '#444444'});

Plotly.newPlot('dash', traces, layout, {displayModeBar: false, staticPlot: true});
</script>
</body>
</html>
